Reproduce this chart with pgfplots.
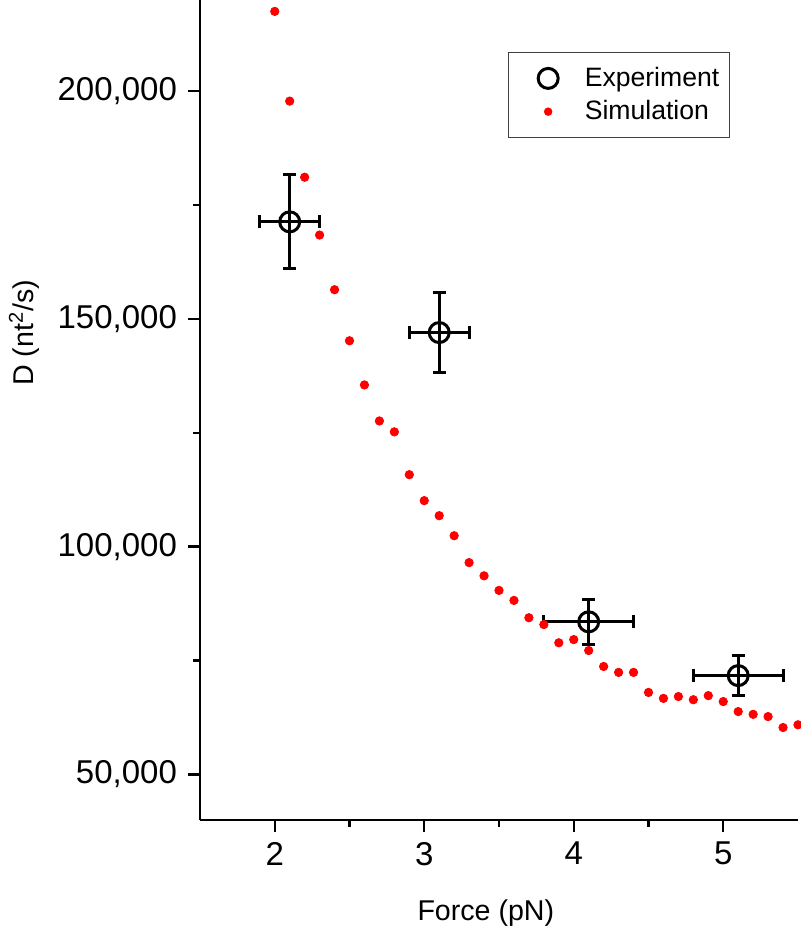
\documentclass[border=0pt]{standalone}
\usepackage{pgfplots}
\pgfplotsset{compat=1.18}
\usepackage{fontspec}
\setmainfont{Liberation Sans}
\pgfplotsset{
  expleg/.style={legend image code/.code={\path (-16.5pt,0pt) (16pt,0pt); \draw[##1] plot coordinates {(0pt,0pt)};}},
  simleg/.style={legend image code/.code={\path (-16.5pt,0pt) (16pt,0pt); \draw[##1, mark size=1.8pt] plot coordinates {(0pt,0pt)};}},
}
\begin{document}
\begin{tikzpicture}
\begin{axis}[
  scale only axis,
  width=299pt, height=410pt,
  xmin=1.5, xmax=5.5, ymin=40000, ymax=220000,
  axis x line=bottom, axis y line=left,
  axis line style={-, line width=1.4pt},
  every tick/.append style={line width=1.2pt, black},
  major tick style={line width=1.2pt, black},
  minor tick style={line width=1.2pt, black},
  tick align=outside,
  major tick length=6pt, minor tick length=3.5pt,
  xtick={2,3,4,5}, ytick={50000,100000,150000,200000},
  minor x tick num=1, minor y tick num=1,
  scaled y ticks=false,
  /pgf/number format/assume math mode=true,
  yticklabel style={xshift=-2pt, /pgf/number format/.cd, fixed, 1000 sep={,}},
  xticklabel style={yshift=-1.5pt},
  tick label style={font=\fontsize{16.5}{20}\selectfont},
  label style={font=\fontsize{14.3}{17}\selectfont},
  xlabel={Force (pN)},
  ylabel={D (nt\textsuperscript{2}/s)},
  xlabel style={at={(axis description cs:0.478,-0.113)}, anchor=center},
  ylabel style={at={(axis description cs:-0.294,0.594)}, anchor=center, rotate=0},
  legend style={at={(axis description cs:0.515,0.937)}, anchor=north west,
    draw=black!75, line width=0.6pt, font=\fontsize{13.3}{16}\selectfont,
    inner xsep=3pt, inner ysep=5.5pt, row sep=1.5pt},
  legend cell align=left,
]
\addplot[only marks, mark=o, mark size=5pt, mark options={line width=1.5pt, fill=white, draw=black},
  expleg,
  error bars/.cd, x dir=both, x explicit, y dir=both, y explicit,
  error bar style={line width=1.5pt, black},
  error mark options={rotate=90, mark size=3.3pt, line width=1.5pt, black}]
  coordinates {
  (2.1,171300) +- (0.2,10300)
  (3.1,147000) +- (0.2,8800)
  (4.1,83500) +- (0.3,4900)
  (5.1,71700) +- (0.3,4300)
  };
\addlegendentry{Experiment}
\addplot[only marks, mark=*, mark size=2.1pt, color=red, mark options={draw=red, fill=red},
  simleg]
  coordinates {
  (2.0,217500) (2.1,197800) (2.2,181100) (2.3,168400) (2.4,156400)
  (2.5,145200) (2.6,135500) (2.7,127600) (2.8,125200) (2.9,115800)
  (3.0,110100) (3.1,106800) (3.2,102400) (3.3,96500) (3.4,93600)
  (3.5,90400) (3.6,88200) (3.7,84400) (3.8,82900) (3.9,78900)
  (4.0,79600) (4.1,77200) (4.2,73700) (4.3,72400) (4.4,72400)
  (4.5,68000) (4.6,66700) (4.7,67100) (4.8,66400) (4.9,67300)
  (5.0,66000) (5.1,63800) (5.2,63200) (5.3,62700) (5.4,60300)
  (5.5,60900)
  };
\addlegendentry{Simulation}
\end{axis}
\pgfresetboundingbox
\path (current axis.south west) ++(-100pt,-56pt) rectangle ++(400pt,466pt);
\end{tikzpicture}
\end{document}
